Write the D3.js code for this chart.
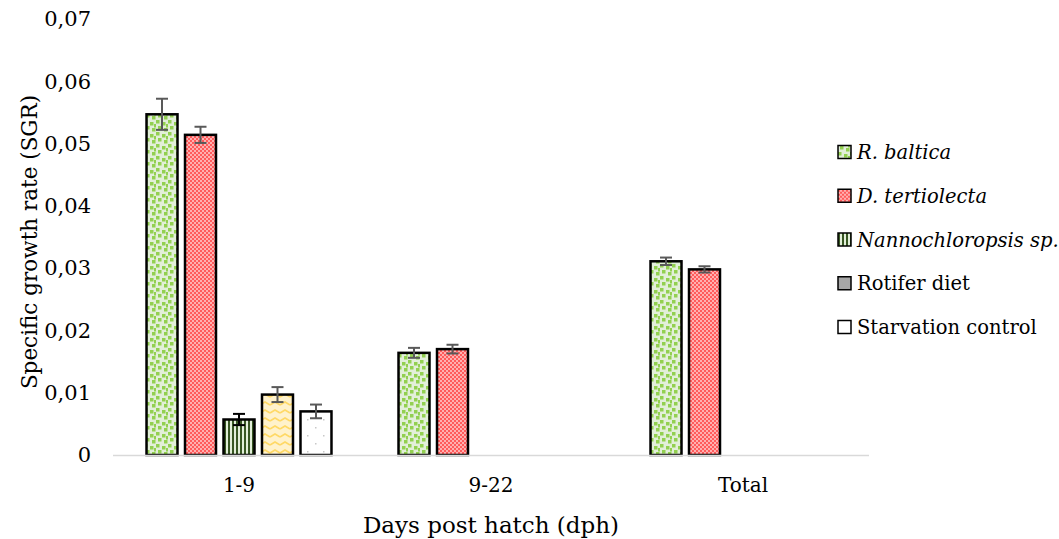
<!DOCTYPE html>
<html>
<head>
<meta charset="utf-8">
<script src="https://cdn.jsdelivr.net/npm/d3@7"></script>
<style>
  body { margin: 0; background: #fff; }
  svg { display: block; font-family: 'DejaVu Serif', serif; }
</style>
</head>
<body>
<div id="chart"></div>
<script>
// ### DATA ###
const categories = [ '1-9', '9-22', 'Total' ];
const seriesNames = [ 'R. baltica', 'D. tertiolecta', 'Nannochloropsis sp.', 'Rotifer diet', 'Starvation control' ];
const rBaltica = [ 0.0547, 0.0164, 0.0311 ];
const dTertiolecta = [ 0.0514, 0.0170, 0.0298 ];
const nannochloropsis = [ 0.0057, null, null ];
const rotiferDiet = [ 0.0097, null, null ];
const starvation = [ 0.0070, null, null ];
const rBalticaErr = [ 0.0025, 0.0008, 0.0006 ];
const dTertiolectaErr = [ 0.0013, 0.0007, 0.0005 ];
const nannochloropsisErr = [ 0.0009, null, null ];
const rotiferDietErr = [ 0.0012, null, null ];
const starvationErr = [ 0.0011, null, null ];
const yTicks = [ 0, 0.01, 0.02, 0.03, 0.04, 0.05, 0.06, 0.07 ];

const values = [ rBaltica, dTertiolecta, nannochloropsis, rotiferDiet, starvation ];
const errors = [ rBalticaErr, dTertiolectaErr, nannochloropsisErr, rotiferDietErr, starvationErr ];

//_____ LAYOUT _____
const W = 1059, H = 539;
const plot = { left: 113, right: 869, top: 19, bottom: 455 };
const italicSeries = [ true, true, true, false, false ];

const svg = d3.select( '#chart' ).append( 'svg' )
  .attr( 'width', W ).attr( 'height', H );

//_____ PATTERNS _____
const defs = svg.append( 'defs' );

//>>> R. baltica: green squares on pale green
const pG = defs.append( 'pattern' ).attr( 'id', 'pat0' )
  .attr( 'patternUnits', 'userSpaceOnUse' ).attr( 'width', 12 ).attr( 'height', 12 );
pG.append( 'rect' ).attr( 'width', 12 ).attr( 'height', 12 ).attr( 'fill', '#e2efd9' );
[ [ 0, 0 ], [ 6, 2 ], [ 2, 6 ], [ 8, 8 ], [ 10, 4 ] ].forEach( s => {
  pG.append( 'rect' ).attr( 'x', s[ 0 ] ).attr( 'y', s[ 1 ] )
    .attr( 'width', 3.5 ).attr( 'height', 3.5 ).attr( 'fill', '#92d050' );
} );

//>>> D. tertiolecta: red checker
const pR = defs.append( 'pattern' ).attr( 'id', 'pat1' )
  .attr( 'patternUnits', 'userSpaceOnUse' ).attr( 'width', 4 ).attr( 'height', 4 );
pR.append( 'rect' ).attr( 'width', 4 ).attr( 'height', 4 ).attr( 'fill', '#ff5b5b' );
pR.append( 'rect' ).attr( 'width', 2 ).attr( 'height', 2 ).attr( 'fill', '#ffb0b0' );
pR.append( 'rect' ).attr( 'x', 2 ).attr( 'y', 2 ).attr( 'width', 2 ).attr( 'height', 2 ).attr( 'fill', '#ffb0b0' );

//>>> Nannochloropsis: vertical stripes
const pN = defs.append( 'pattern' ).attr( 'id', 'pat2' )
  .attr( 'patternUnits', 'userSpaceOnUse' ).attr( 'width', 4 ).attr( 'height', 4 );
pN.append( 'rect' ).attr( 'width', 4 ).attr( 'height', 4 ).attr( 'fill', '#e2efd9' );
pN.append( 'rect' ).attr( 'width', 2 ).attr( 'height', 4 ).attr( 'fill', '#385723' );

//>>> Rotifer diet: yellow zigzag
const pY = defs.append( 'pattern' ).attr( 'id', 'pat3' )
  .attr( 'patternUnits', 'userSpaceOnUse' ).attr( 'width', 10 ).attr( 'height', 8 );
pY.append( 'rect' ).attr( 'width', 10 ).attr( 'height', 8 ).attr( 'fill', '#fff2cc' );
pY.append( 'path' ).attr( 'd', 'M0,5 L5,2 L10,5' ).attr( 'fill', 'none' )
  .attr( 'stroke', '#ffd966' ).attr( 'stroke-width', 1.6 );

//>>> Starvation: sparse dots on white
const pW = defs.append( 'pattern' ).attr( 'id', 'pat4' )
  .attr( 'patternUnits', 'userSpaceOnUse' ).attr( 'width', 16 ).attr( 'height', 16 );
pW.append( 'rect' ).attr( 'width', 16 ).attr( 'height', 16 ).attr( 'fill', '#ffffff' );
pW.append( 'rect' ).attr( 'x', 3 ).attr( 'y', 3 ).attr( 'width', 1.5 ).attr( 'height', 1.5 ).attr( 'fill', '#c8c8c8' );
pW.append( 'rect' ).attr( 'x', 11 ).attr( 'y', 11 ).attr( 'width', 1.5 ).attr( 'height', 1.5 ).attr( 'fill', '#c8c8c8' );

const barFills = [ 'url(#pat0)', 'url(#pat1)', 'url(#pat2)', 'url(#pat3)', 'url(#pat4)' ];
const legendFills = [ 'url(#pat0)', 'url(#pat1)', 'url(#pat2)', '#a6a6a6', '#ffffff' ];
const errColors = [ '#595959', '#595959', '#000000', '#595959', '#595959' ];

//_____ SCALES _____
const x0 = d3.scaleBand().domain( categories )
  .range( [ plot.left, plot.right ] )
  .paddingInner( 0.266 ).paddingOuter( 0.133 );
const x1 = d3.scaleBand().domain( d3.range( seriesNames.length ) )
  .range( [ 0, x0.bandwidth() ] )
  .paddingInner( 0.195 ).paddingOuter( 0 );
const y = d3.scaleLinear().domain( [ 0, 0.07 ] ).range( [ plot.bottom, plot.top ] );

//_____ Y AXIS (labels only) _____
const yAxis = d3.axisLeft( y ).tickValues( yTicks ).tickSize( 0 ).tickPadding( 0 )
  .tickFormat( d => d === 0 ? '0' : d3.format( '.2f' )( d ).replace( '.', ',' ) );
const gy = svg.append( 'g' ).attr( 'transform', `translate(91,0)` ).call( yAxis );
gy.select( '.domain' ).remove();
gy.selectAll( 'text' ).attr( 'font-family', 'DejaVu Serif, serif' )
  .attr( 'font-size', 21 ).attr( 'fill', '#000' );

//_____ BARS _____
const bars = [];
categories.forEach( ( c, ci ) => {
  values.forEach( ( vals, si ) => {
    if ( vals[ ci ] !== null ) bars.push( { c, si, v: vals[ ci ], e: errors[ si ][ ci ] } );
  } );
} );

svg.append( 'g' ).selectAll( 'rect' ).data( bars ).enter().append( 'rect' )
  .attr( 'x', d => x0( d.c ) + x1( d.si ) )
  .attr( 'y', d => y( d.v ) )
  .attr( 'width', x1.bandwidth() )
  .attr( 'height', d => y( 0 ) - y( d.v ) )
  .attr( 'fill', d => barFills[ d.si ] )
  .attr( 'stroke', '#000' ).attr( 'stroke-width', 2.5 );

//_____ X AXIS LINE _____
svg.append( 'line' )
  .attr( 'x1', plot.left ).attr( 'x2', plot.right )
  .attr( 'y1', y( 0 ) + 0.5 ).attr( 'y2', y( 0 ) + 0.5 )
  .attr( 'stroke', '#d9d9d9' ).attr( 'stroke-width', 1.5 );

//_____ ERROR BARS _____
const eb = svg.append( 'g' ).selectAll( 'g' ).data( bars ).enter().append( 'g' )
  .attr( 'stroke', d => errColors[ d.si ] ).attr( 'stroke-width', 2 );
const cx = d => x0( d.c ) + x1( d.si ) + x1.bandwidth() / 2;
eb.append( 'line' ).attr( 'x1', cx ).attr( 'x2', cx )
  .attr( 'y1', d => y( d.v + d.e ) ).attr( 'y2', d => y( d.v - d.e ) );
eb.append( 'line' ).attr( 'x1', d => cx( d ) - 6 ).attr( 'x2', d => cx( d ) + 6 )
  .attr( 'y1', d => y( d.v + d.e ) ).attr( 'y2', d => y( d.v + d.e ) );
eb.append( 'line' ).attr( 'x1', d => cx( d ) - 6 ).attr( 'x2', d => cx( d ) + 6 )
  .attr( 'y1', d => y( d.v - d.e ) ).attr( 'y2', d => y( d.v - d.e ) );

//_____ CATEGORY LABELS _____
const xAxis = d3.axisBottom( x0 ).tickSize( 0 ).tickPadding( 0 );
const gx = svg.append( 'g' ).attr( 'transform', `translate(0,${ plot.bottom + 23 })` ).call( xAxis );
gx.select( '.domain' ).remove();
gx.selectAll( 'text' ).attr( 'font-family', 'DejaVu Serif, serif' )
  .attr( 'font-size', 20 ).attr( 'fill', '#000' );

//_____ AXIS TITLES _____
svg.append( 'text' )
  .attr( 'x', ( plot.left + plot.right ) / 2 ).attr( 'y', 533 )
  .attr( 'text-anchor', 'middle' ).attr( 'font-size', 23 )
  .text( 'Days post hatch (dph)' );

svg.append( 'text' )
  .attr( 'transform', `translate(37,242) rotate(-90)` )
  .attr( 'text-anchor', 'middle' ).attr( 'font-size', 21.5 )
  .text( 'Specific growth rate (SGR)' );

//_____ LEGEND _____
const legend = svg.append( 'g' ).attr( 'transform', 'translate(838,152)' );
const items = legend.selectAll( 'g' ).data( seriesNames ).enter().append( 'g' )
  .attr( 'transform', ( d, i ) => `translate(0,${ i * 43.75 })` );
items.append( 'rect' ).attr( 'x', 0 ).attr( 'y', -6.5 ).attr( 'width', 13 ).attr( 'height', 13 )
  .attr( 'fill', ( d, i ) => legendFills[ i ] )
  .attr( 'stroke', '#000' ).attr( 'stroke-width', 1.5 );
items.append( 'text' ).attr( 'x', 19 ).attr( 'y', 7 )
  .attr( 'font-size', 19.5 )
  .attr( 'font-style', ( d, i ) => italicSeries[ i ] ? 'italic' : 'normal' )
  .text( d => d );
</script>
</body>
</html>
